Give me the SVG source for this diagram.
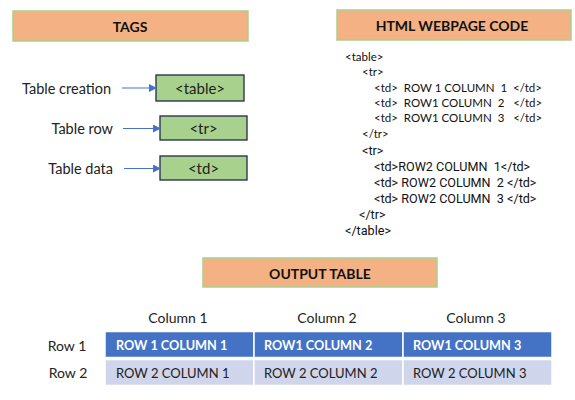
<svg xmlns="http://www.w3.org/2000/svg" width="575" height="400" viewBox="0 0 575 400">
<style>
.hdr{fill:#F4B183;stroke:#A9D18E;stroke-width:1.5}
.hdrt{font-family:Lato,"Open Sans",sans-serif;font-weight:bold;font-size:14px;fill:#111;text-anchor:middle;dominant-baseline:central}
.tag{fill:#A9D18E;stroke:#1F2A44;stroke-width:1.3}
.tagt{font-family:Lato,sans-serif;font-size:15px;fill:#222;text-anchor:middle;dominant-baseline:central}
.lbl{font-family:Lato,sans-serif;font-size:14.5px;fill:#222;text-anchor:end;dominant-baseline:central}
.code{font-family:Lato,sans-serif;font-size:11.5px;fill:#111}
.code2{font-family:Roboto,sans-serif;font-size:12.6px;fill:#111}
.col{font-family:Lato,sans-serif;font-size:14px;fill:#222;text-anchor:middle;dominant-baseline:central}
.c1{fill:#4472C4;stroke:#fff;stroke-width:1.5}
.c2{fill:#CFD5EA;stroke:#fff;stroke-width:1.5}
.ct1{font-family:Lato,sans-serif;font-weight:bold;font-size:12.7px;fill:#fff;dominant-baseline:central}
.ct2{font-family:Lato,sans-serif;font-size:13px;fill:#222;dominant-baseline:central}
.arr{stroke:#4472C4;stroke-width:1.2;fill:none;marker-end:url(#ah)}
</style>
<defs>
<marker id="ah" markerWidth="8" markerHeight="8" refX="7" refY="4" orient="auto" markerUnits="userSpaceOnUse">
<path d="M0,0 L8,4 L0,8 Z" fill="#4472C4"/>
</marker>
</defs>
<rect width="575" height="400" fill="#fff"/>
<g id="tags-header">
<rect class="hdr" x="13" y="11" width="235" height="30"/>
<text class="hdrt" x="130" y="26">TAGS</text>
</g>
<g id="code-header">
<rect class="hdr" x="337" y="10" width="234" height="30"/>
<text class="hdrt" x="452" y="25">HTML WEBPAGE CODE</text>
</g>
<g id="output-header">
<rect class="hdr" x="203" y="258" width="234" height="29"/>
<text class="hdrt" x="320" y="273">OUTPUT TABLE</text>
</g>
<g id="label-creation"><text class="lbl" x="111" y="88">Table creation</text></g>
<g id="label-row"><text class="lbl" x="113" y="128">Table row</text></g>
<g id="label-data"><text class="lbl" x="113" y="168">Table data</text></g>
<g id="tag-table">
<rect class="tag" x="156" y="75" width="88" height="26"/>
<text class="tagt" x="200" y="88">&lt;table&gt;</text>
</g>
<g id="tag-tr">
<rect class="tag" x="160" y="116" width="87" height="24"/>
<text class="tagt" x="203.5" y="128">&lt;tr&gt;</text>
</g>
<g id="tag-td">
<rect class="tag" x="160" y="156" width="87" height="24"/>
<text class="tagt" x="203.5" y="168">&lt;td&gt;</text>
</g>
<g id="connectors">
<line class="arr" x1="122" y1="88" x2="156" y2="88"/>
<line class="arr" x1="123" y1="128.5" x2="160" y2="128.5"/>
<line class="arr" x1="124" y1="168.5" x2="160" y2="168.5"/>
</g>
<g id="code">
<text class="code" x="345" y="61">&lt;table&gt;</text>
<text class="code" x="362" y="76">&lt;tr&gt;</text>
<text class="code" x="374" y="92" xml:space="preserve">&lt;td&gt;  ROW 1 COLUMN  1  &lt;/td&gt;</text>
<text class="code" x="374" y="107" xml:space="preserve">&lt;td&gt;  ROW1 COLUMN  2   &lt;/td&gt;</text>
<text class="code" x="374" y="122" xml:space="preserve">&lt;td&gt;  ROW1 COLUMN  3   &lt;/td&gt;</text>
<text class="code" x="362" y="138">&lt;/tr&gt;</text>
<text class="code2" x="362" y="155">&lt;tr&gt;</text>
<text class="code2" x="374" y="171" xml:space="preserve">&lt;td&gt;ROW2 COLUMN  1&lt;/td&gt;</text>
<text class="code2" x="374" y="187" xml:space="preserve">&lt;td&gt; ROW2 COLUMN  2 &lt;/td&gt;</text>
<text class="code2" x="374" y="203" xml:space="preserve">&lt;td&gt; ROW2 COLUMN  3 &lt;/td&gt;</text>
<text class="code2" x="359" y="219">&lt;/tr&gt;</text>
<text class="code2" x="345" y="235">&lt;/table&gt;</text>
</g>
<g id="output-table">
<text class="col" x="178" y="317">Column 1</text>
<text class="col" x="327" y="317">Column 2</text>
<text class="col" x="476" y="317">Column 3</text>
<text class="col" x="67" y="345">Row 1</text>
<text class="col" x="68" y="372">Row 2</text>
<rect class="c1" x="105" y="331.5" width="149" height="26"/>
<rect class="c1" x="254" y="331.5" width="149" height="26"/>
<rect class="c1" x="403" y="331.5" width="149" height="26"/>
<rect class="c2" x="105" y="359.5" width="149" height="26"/>
<rect class="c2" x="254" y="359.5" width="149" height="26"/>
<rect class="c2" x="403" y="359.5" width="149" height="26"/>
<text class="ct1" x="116" y="345">ROW 1 COLUMN 1</text>
<text class="ct1" x="264" y="345">ROW1 COLUMN 2</text>
<text class="ct1" x="413" y="345">ROW1 COLUMN 3</text>
<text class="ct2" x="116" y="373">ROW 2 COLUMN 1</text>
<text class="ct2" x="264" y="373">ROW 2 COLUMN 2</text>
<text class="ct2" x="413" y="373">ROW 2 COLUMN 3</text>
</g>
</svg>
